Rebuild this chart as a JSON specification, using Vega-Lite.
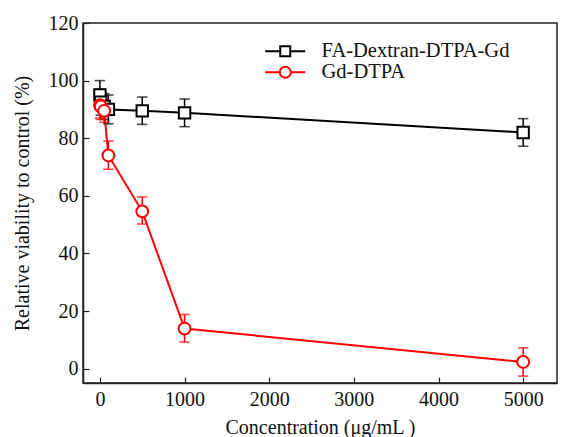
{
  "$schema": "https://vega.github.io/schema/vega-lite/v6.json",
  "autosize": "none",
  "width": 474,
  "height": 360,
  "padding": {"left": 83, "top": 23, "right": 7, "bottom": 54},
  "background": "white",
  "config": {
    "view": {"stroke": "#222", "strokeWidth": 1.5},
    "font": "Liberation Serif",
    "axis": {
      "labelFont": "Liberation Serif",
      "titleFont": "Liberation Serif",
      "labelFontSize": 20,
      "titleFontSize": 20,
      "titleFontWeight": "normal",
      "labelColor": "#111",
      "titleColor": "#111",
      "grid": false,
      "domainColor": "#222",
      "domainWidth": 1.5,
      "tickColor": "#222",
      "tickWidth": 1.2,
      "tickSize": -6
    },
    "legend": {
      "labelFont": "Liberation Serif",
      "labelFontSize": 20.5,
      "labelColor": "#111",
      "labelLimit": 0,
      "orient": "none",
      "legendX": 192,
      "legendY": 18,
      "padding": 0,
      "symbolSize": 100,
      "symbolStrokeWidth": 2,
      "symbolOpacity": 1,
      "symbolFillColor": "white",
      "labelOffset": 26,
      "rowPadding": -3,
      "title": null
    }
  },
  "data": {
    "values": [
      {"series": "FA-Dextran-DTPA-Gd", "conc": 0, "v": 95, "lo": 90, "hi": 100},
      {"series": "FA-Dextran-DTPA-Gd", "conc": 10, "v": 92.5, "lo": 88, "hi": 97},
      {"series": "FA-Dextran-DTPA-Gd", "conc": 50, "v": 91, "lo": 86.5, "hi": 95.5},
      {"series": "FA-Dextran-DTPA-Gd", "conc": 100, "v": 90, "lo": 85, "hi": 95},
      {"series": "FA-Dextran-DTPA-Gd", "conc": 500, "v": 89.5, "lo": 84.8, "hi": 94.3},
      {"series": "FA-Dextran-DTPA-Gd", "conc": 1000, "v": 88.8, "lo": 84, "hi": 93.6},
      {"series": "FA-Dextran-DTPA-Gd", "conc": 5000, "v": 82, "lo": 77.2, "hi": 86.8},
      {"series": "Gd-DTPA", "conc": 0, "v": 91.5, "lo": 87, "hi": 96},
      {"series": "Gd-DTPA", "conc": 10, "v": 91, "lo": 86.5, "hi": 95.5},
      {"series": "Gd-DTPA", "conc": 50, "v": 89.5, "lo": 85.5, "hi": 93.5},
      {"series": "Gd-DTPA", "conc": 100, "v": 74, "lo": 69.2, "hi": 79},
      {"series": "Gd-DTPA", "conc": 500, "v": 54.6, "lo": 50.2, "hi": 59.6},
      {"series": "Gd-DTPA", "conc": 1000, "v": 13.9, "lo": 9.2, "hi": 18.8},
      {"series": "Gd-DTPA", "conc": 5000, "v": 2.3, "lo": -2.6, "hi": 7.2}
    ]
  },
  "encoding": {
    "x": {
      "field": "conc", "type": "quantitative",
      "scale": {"domain": [-200, 5400], "nice": false, "zero": false},
      "axis": {"values": [0, 1000, 2000, 3000, 4000, 5000], "title": "Concentration (μg/mL )", "labelPadding": 12, "titlePadding": 8, "format": "d"}
    },
    "color": {
      "field": "series", "type": "nominal",
      "scale": {"domain": ["FA-Dextran-DTPA-Gd", "Gd-DTPA"], "range": ["#000000", "#ff0000"]},
      "legend": {
        "encode": {"symbols": {"update": {"opacity": {"value": 1}, "fill": {"value": "white"}, "fillOpacity": {"value": 1}, "strokeOpacity": {"value": 1}}}}
      }
    }
  },
  "layer": [
    {
      "mark": {"type": "line", "strokeWidth": 2},
      "encoding": {
        "y": {
          "field": "v", "type": "quantitative",
          "scale": {"domain": [-5, 120], "nice": false, "zero": false},
          "axis": {"values": [0, 20, 40, 60, 80, 100, 120], "title": "Relative viability to control (%)", "labelPadding": 11, "titlePadding": 16}
        }
      }
    },
    {
      "mark": {"type": "rule", "strokeWidth": 1.5},
      "encoding": {
        "y": {"field": "lo", "type": "quantitative"},
        "y2": {"field": "hi"}
      }
    },
    {
      "mark": {"type": "tick", "orient": "horizontal", "size": 9, "thickness": 0.2, "filled": false, "strokeWidth": 1.4},
      "encoding": {"y": {"field": "lo", "type": "quantitative"}}
    },
    {
      "mark": {"type": "tick", "orient": "horizontal", "size": 9, "thickness": 0.2, "filled": false, "strokeWidth": 1.4},
      "encoding": {"y": {"field": "hi", "type": "quantitative"}}
    },
    {
      "transform": [{"filter": "datum.series === 'FA-Dextran-DTPA-Gd'"}],
      "mark": {"type": "point", "shape": "square", "filled": false, "fill": "white", "fillOpacity": 1, "strokeWidth": 2, "size": 130, "opacity": 1},
      "encoding": {
        "y": {"field": "v", "type": "quantitative"}
      }
    },
    {
      "transform": [{"filter": "datum.series === 'Gd-DTPA'"}],
      "mark": {"type": "point", "shape": "circle", "filled": false, "fill": "white", "fillOpacity": 1, "strokeWidth": 2, "size": 140, "opacity": 1},
      "encoding": {
        "y": {"field": "v", "type": "quantitative"}
      }
    },
    {
      "mark": {"type": "point", "filled": false, "strokeWidth": 2, "size": 100, "opacity": 0},
      "encoding": {
        "y": {"field": "v", "type": "quantitative"},
        "shape": {
          "field": "series", "type": "nominal",
          "scale": {"domain": ["FA-Dextran-DTPA-Gd", "Gd-DTPA"], "range": ["M-4,0H-1M1,0H4M-1,-1H1V1H-1Z", "M-4,0H-1.1M1.1,0H4M-1.1,0A1.1,1.1,0,1,0,1.1,0A1.1,1.1,0,1,0,-1.1,0Z"]},
          "legend": {
            "encode": {"symbols": {"update": {"opacity": {"value": 1}, "fill": {"value": "white"}, "fillOpacity": {"value": 1}, "strokeOpacity": {"value": 1}}}}
          }
        }
      }
    }
  ]
}
